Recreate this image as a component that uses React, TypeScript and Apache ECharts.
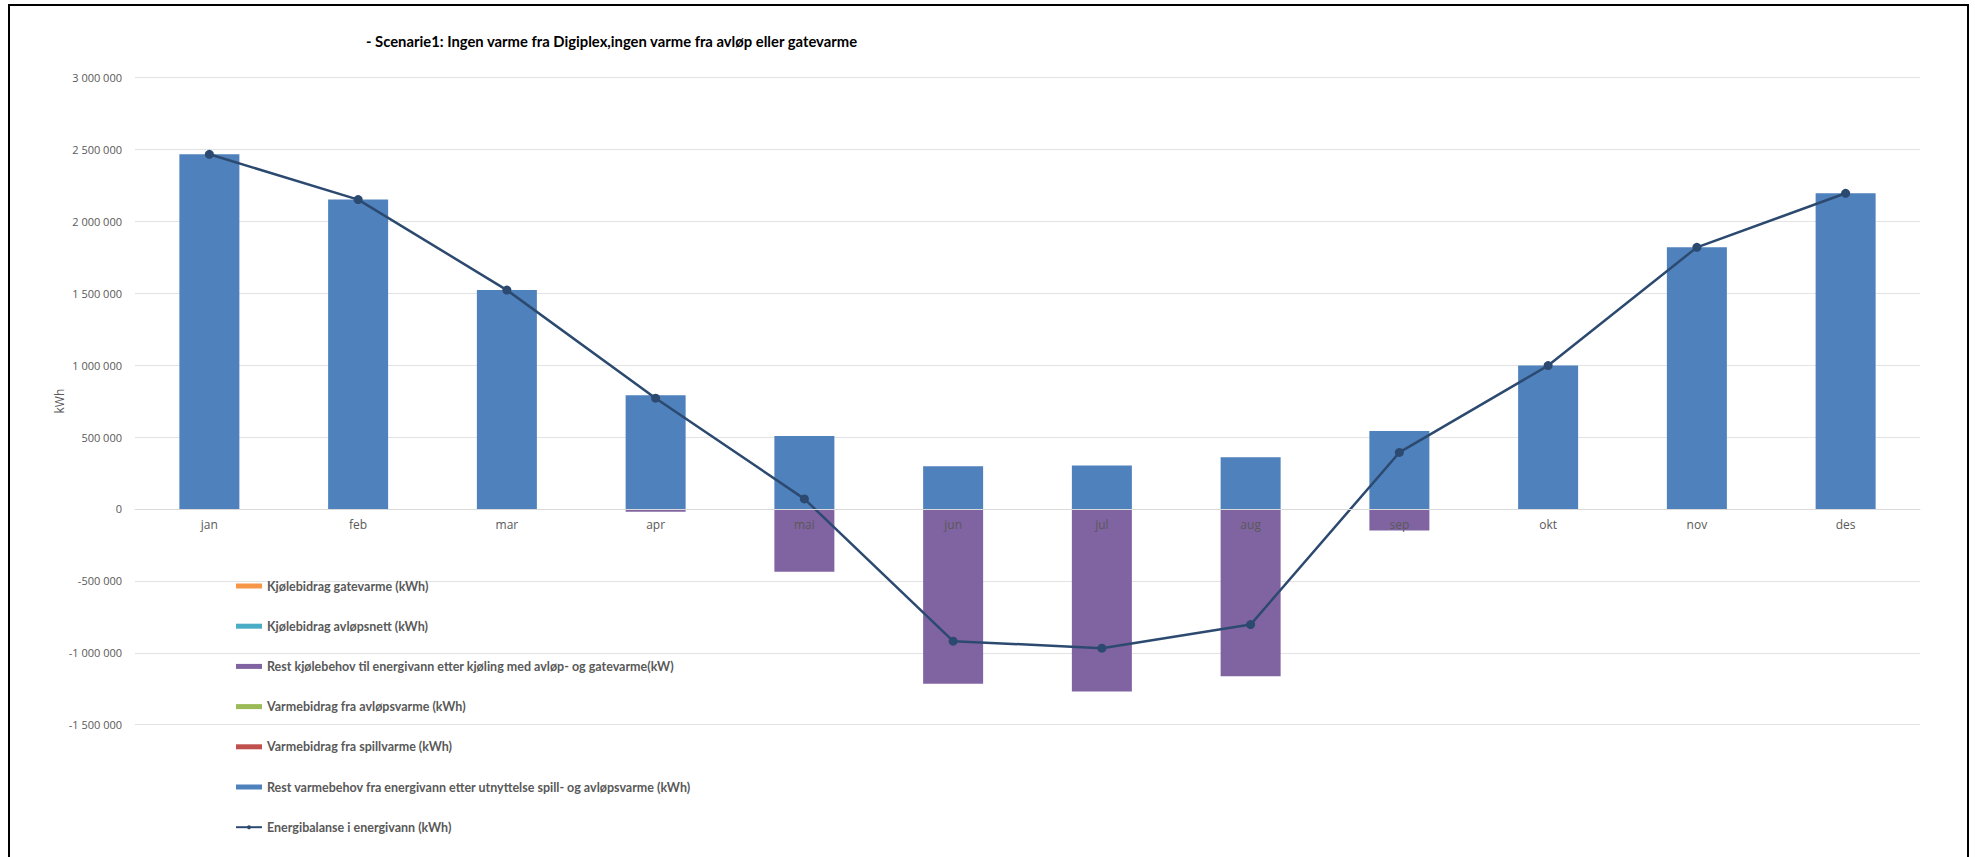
import React, { useEffect, useRef } from "react";
import * as echarts from "echarts";

const months = ["jan", "feb", "mar", "apr", "mai", "jun", "jul", "aug", "sep", "okt", "nov", "des"];

const kjolebidragGatevarme = [0, 0, 0, 0, 0, 0, 0, 0, 0, 0, 0, 0];
const kjolebidragAvlopsnett = [0, 0, 0, 0, 0, 0, 0, 0, 0, 0, 0, 0];
const restKjolebehov = [0, 0, 0, -20000, -437000, -1216000, -1270000, -1163000, -149000, 0, 0, 0];
const varmebidragAvlopsvarme = [0, 0, 0, 0, 0, 0, 0, 0, 0, 0, 0, 0];
const varmebidragSpillvarme = [0, 0, 0, 0, 0, 0, 0, 0, 0, 0, 0, 0];
const restVarmebehov = [2466000, 2151000, 1522000, 790000, 507000, 297000, 302000, 359000, 542000, 997000, 1819000, 2195000];
const energibalanse = [2466000, 2151000, 1522000, 770000, 70000, -919000, -968000, -804000, 393000, 997000, 1819000, 2195000];

const titleText = "- Scenarie1: Ingen varme fra Digiplex,ingen varme fra avløp eller gatevarme";
const names = [
  "Kjølebidrag gatevarme (kWh)",
  "Kjølebidrag avløpsnett (kWh)",
  "Rest kjølebehov til energivann etter kjøling med avløp- og gatevarme(kW)",
  "Varmebidrag fra avløpsvarme (kWh)",
  "Varmebidrag fra spillvarme (kWh)",
  "Rest varmebehov fra energivann etter utnyttelse spill- og avløpsvarme (kWh)",
  "Energibalanse i energivann (kWh)",
];

const TITLE_FONT = "Lato, 'Open Sans', sans-serif";
const AXIS_FONT = "'Open Sans', sans-serif";

const Y_MIN = -1500000;
const Y_MAX = 3000000;
const GRID_TOP = 77.5;
const GRID_BOTTOM = 132.3;
const CHART_H = 857;

function fmt(v: number): string {
  const s = Math.abs(v).toString().replace(/\B(?=(\d{3})+(?!\d))/g, " ");
  return (v < 0 ? "-" : "") + s;
}

export default function App() {
  const ref = useRef<HTMLDivElement>(null);
  useEffect(() => {
    if (!ref.current) return;
    const chart = echarts.init(ref.current, undefined, { renderer: "svg" });
    const gridH = CHART_H - GRID_TOP - GRID_BOTTOM;
    const zeroOffset = (gridH * (0 - Y_MIN)) / (Y_MAX - Y_MIN);
    const barData = [
      { name: names[0], data: kjolebidragGatevarme, color: "#F79646" },
      { name: names[1], data: kjolebidragAvlopsnett, color: "#4BACC6" },
      { name: names[2], data: restKjolebehov, color: "#8064A2" },
      { name: names[3], data: varmebidragAvlopsvarme, color: "#9BBB59" },
      { name: names[4], data: varmebidragSpillvarme, color: "#C0504D" },
      { name: names[5], data: restVarmebehov, color: "#4F81BD" },
    ];
    chart.setOption({
      animation: false,
      backgroundColor: "#ffffff",
      title: {
        text: titleText,
        left: 361,
        top: 28,
        textStyle: { fontFamily: TITLE_FONT, fontSize: 14.8, fontWeight: "bold", color: "#000000" },
      },
      grid: { left: 135, right: 55, top: GRID_TOP, bottom: GRID_BOTTOM, containLabel: false },
      legend: {
        orient: "vertical",
        left: 230,
        top: 574.5,
        itemWidth: 26,
        itemHeight: 5,
        itemGap: 27.2,
        textStyle: { fontFamily: TITLE_FONT, fontSize: 12.5, fontWeight: "bold", color: "#595959", lineHeight: 13 },
        data: [
          { name: names[0], icon: "rect" },
          { name: names[1], icon: "rect" },
          { name: names[2], icon: "rect" },
          { name: names[3], icon: "rect" },
          { name: names[4], icon: "rect" },
          { name: names[5], icon: "rect" },
          { name: names[6] },
        ],
      },
      xAxis: {
        type: "category",
        data: months,
        z: 10,
        position: "bottom",
        offset: -zeroOffset,
        axisLine: { onZero: false, lineStyle: { color: "#D9D9D9", width: 1 } },
        axisTick: { show: false },
        axisLabel: { color: "#595959", fontSize: 12, fontFamily: AXIS_FONT, margin: 10 },
      },
      yAxis: {
        type: "value",
        min: Y_MIN,
        max: Y_MAX,
        interval: 500000,
        name: "kWh",
        nameLocation: "middle",
        nameGap: 70,
        nameMoveOverlap: false,
        nameTextStyle: { color: "#595959", fontSize: 12, fontFamily: AXIS_FONT },
        axisLine: { show: false },
        axisTick: { show: false },
        splitLine: { lineStyle: { color: "#E3E3E3", width: 1 } },
        axisLabel: { color: "#595959", fontSize: 11, fontFamily: AXIS_FONT, margin: 13, formatter: (v: number) => fmt(v) },
      },
      series: [
        ...barData.map((b) => ({
          name: b.name,
          type: "bar",
          stack: "total",
          barWidth: 60,
          data: b.data,
          itemStyle: { color: b.color },
        })),
        {
          name: names[6],
          type: "line",
          data: energibalanse,
          z: 5,
          symbol: "circle",
          symbolSize: 9,
          itemStyle: { color: "#2C4A70" },
          lineStyle: { color: "#2C4A70", width: 2.5 },
        },
      ],
    });
    return () => chart.dispose();
  }, []);

  return (
    <div style={{ position: "absolute", left: 0, top: 0, width: 1975, height: 857, overflow: "hidden", background: "#fff" }}>
      <div ref={ref} style={{ position: "absolute", left: 0, top: 0, width: 1975, height: 857 }} />
      <div
        style={{
          position: "absolute",
          left: 8,
          top: 4,
          width: 1957,
          height: 900,
          border: "2px solid #000",
          pointerEvents: "none",
        }}
      />
    </div>
  );
}
